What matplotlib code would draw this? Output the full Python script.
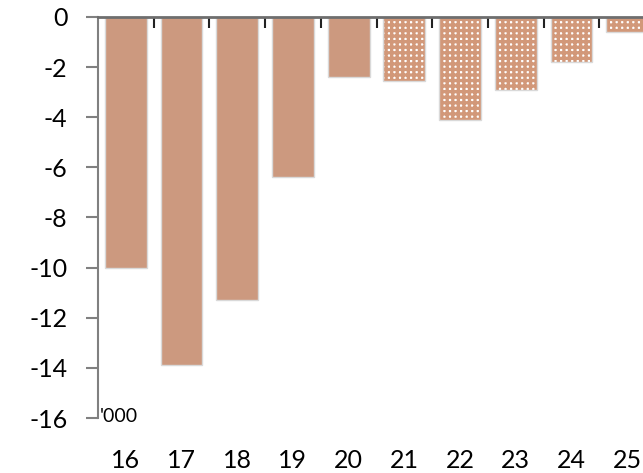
import matplotlib
matplotlib.use("Agg")
import matplotlib.pyplot as plt
import numpy as np

years = ["16", "17", "18", "19", "20", "21", "22", "23", "24", "25"]
values = [-10.0, -13.9, -11.3, -6.4, -2.4, -2.55, -4.1, -2.9, -1.8, -0.6]
forecast = [False, False, False, False, False, True, True, True, True, True]
yticks = [0, -2, -4, -6, -8, -10, -12, -14, -16]
unit_label = "'000"

bar_color = "#CC997F"
hatch_color = "#D29879"
edge_gray = "#D9D9D9"

plt.rcParams["font.family"] = ["Lato", "DejaVu Sans"]
plt.rcParams["hatch.linewidth"] = 2.4

fig = plt.figure(figsize=(6.43, 4.73), dpi=100)
ax = fig.add_axes([98 / 643, 55 / 473, 557 / 643, 401 / 473])

x = np.arange(len(years))
width = 0.75
for xi, v, f in zip(x, values, forecast):
    if f:
        ax.bar(xi, v, width=width, color="white", edgecolor=hatch_color,
               linewidth=0, hatch="+++", zorder=2)
        ax.bar(xi, v, width=width, fill=False, edgecolor=edge_gray,
               linewidth=1.0, zorder=3)
    else:
        ax.bar(xi, v, width=width, color=bar_color, edgecolor=edge_gray,
               linewidth=1.0, zorder=2)

ax.set_xlim(-0.5, len(years) - 0.5)
ax.set_ylim(-16, 0)

# zero line along the top, with separators between categories
ax.spines["right"].set_visible(False)
ax.spines["bottom"].set_visible(False)
ax.spines["top"].set_color("#6E6E6E")
ax.spines["top"].set_linewidth(2.0)
ax.spines["top"].set_zorder(5)
ax.spines["left"].set_color("#808080")
ax.spines["left"].set_linewidth(1.5)

ax.set_xticks(x)
ax.set_xticklabels(years)
ax.tick_params(axis="x", which="major", length=0, pad=22, labelsize=18,
               bottom=True, top=False)
ax.set_xticks(x[:-1] + 0.5, minor=True)
ax.tick_params(axis="x", which="minor", top=True, bottom=False,
               direction="in", length=8, width=1.5, color="#222222")

ax.set_yticks(yticks)
ax.set_yticklabels([str(t) for t in yticks])
ax.tick_params(axis="y", length=9, width=1.5, color="#808080", pad=13,
               labelsize=18)

ax.text(-0.5 + 0.04, -15.95, unit_label, ha="left", va="center",
        fontsize=14, transform=ax.transData)

fig.savefig("out.png", dpi=100)
